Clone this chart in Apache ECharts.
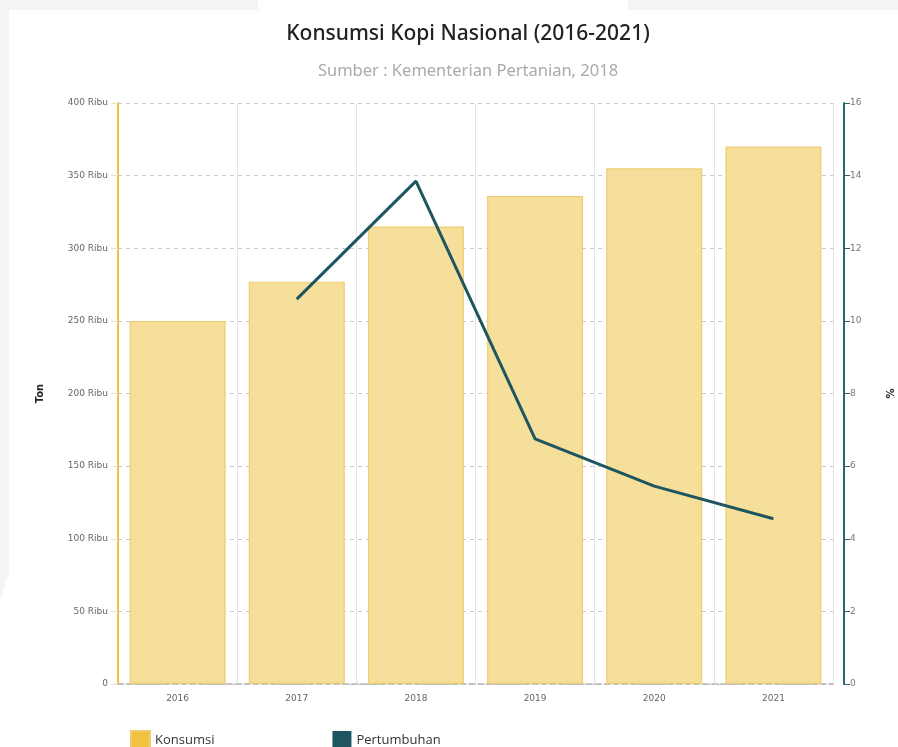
<!DOCTYPE html>
<html>
<head>
<meta charset="utf-8">
<script src="https://cdn.jsdelivr.net/npm/echarts@6/dist/echarts.min.js"></script>
<style>
html,body{margin:0;padding:0;background:#fff;}
#c{width:898px;height:747px;}
</style>
</head>
<body>
<div id="c"></div>
<script>
var categories = ['2016','2017','2018','2019','2020','2021'];
var konsumsi = [250, 277, 315, 336, 355, 370];           // ribu ton
var pertumbuhan = [null, 10.6, 13.85, 6.75, 5.45, 4.55];  // %
var leftTicks = { min: 0, max: 400, interval: 50 };
var rightTicks = { min: 0, max: 16, interval: 2 };

var chart = echarts.init(document.getElementById('c'));
chart.setOption({
  backgroundColor: '#ffffff',
  graphic: [
    { type: 'rect', z: -10, shape: { x: 0, y: 0, width: 258, height: 10 }, style: { fill: '#f4f4f4' } },
    { type: 'rect', z: -10, shape: { x: 628, y: 0, width: 270, height: 10 }, style: { fill: '#f4f4f4' } },
    { type: 'polygon', z: -10, shape: { points: [[0,0],[9,0],[9,572],[0,600]] }, style: { fill: '#f4f4f4' } }
  ],
  title: [
    {
      text: 'Konsumsi Kopi Nasional (2016-2021)',
      left: 463,
      textAlign: 'center',
      top: 19,
      textStyle: { fontFamily: 'Noto Sans', fontSize: 21, fontWeight: 500, color: '#222' }
    },
    {
      text: 'Sumber : Kementerian Pertanian, 2018',
      left: 463,
      textAlign: 'center',
      top: 58,
      textStyle: { fontFamily: 'Noto Sans', fontSize: 16.5, fontWeight: 'normal', color: '#aaaaaa' }
    }
  ],
  legend: {
    left: 125,
    top: 725,
    itemWidth: 19,
    itemHeight: 18,
    itemGap: 118,
    textStyle: { fontFamily: 'Open Sans', fontSize: 13, color: '#333' },
    data: [
      { name: 'Konsumsi', icon: 'rect', itemStyle: { color: '#f2c142' } },
      { name: 'Pertumbuhan', icon: 'rect', itemStyle: { color: '#1d5560' } }
    ]
  },
  grid: { left: 118, right: 65, top: 103, bottom: 63, outerBoundsMode: 'none', containLabel: false },
  xAxis: {
    type: 'category',
    data: categories,
    axisLine: { lineStyle: { color: '#b5b5b5', type: 'dashed', width: 1.5 } },
    axisTick: { show: false },
    axisLabel: { color: '#666', fontSize: 9, fontFamily: 'DejaVu Sans', margin: 10 },
    splitLine: { show: true, lineStyle: { color: '#e3e3e3', width: 1 } }
  },
  yAxis: [
    {
      type: 'value',
      min: leftTicks.min, max: leftTicks.max, interval: leftTicks.interval,
      name: 'Ton',
      nameLocation: 'middle',
      nameGap: 73,
      nameRotate: 90,
      nameTextStyle: { fontFamily: 'DejaVu Sans', fontWeight: 'bold', fontSize: 10, color: '#222' },
      axisLine: { show: true, lineStyle: { color: '#f2c142', width: 2 } },
      axisTick: { show: true, length: 7, lineStyle: { color: '#ece3c0' } },
      axisLabel: {
        color: '#666', fontSize: 9, fontFamily: 'DejaVu Sans', margin: 10,
        formatter: function (v) { return v === 0 ? '0' : v + ' Ribu'; }
      },
      splitLine: { show: true, lineStyle: { color: '#c8c8c8', type: [4, 4], width: 1 } }
    },
    {
      type: 'value',
      position: 'right',
      offset: 11,
      min: rightTicks.min, max: rightTicks.max, interval: rightTicks.interval,
      name: '%',
      nameLocation: 'middle',
      nameGap: 42,
      nameRotate: 90,
      nameTextStyle: { fontFamily: 'DejaVu Sans', fontWeight: 'bold', fontSize: 10, color: '#222' },
      axisLine: { show: true, lineStyle: { color: '#2a6470', width: 2 } },
      axisTick: { show: true, length: 6, lineStyle: { color: '#2a6470' } },
      axisLabel: { color: '#777', fontSize: 9, fontFamily: 'DejaVu Sans', margin: 6 },
      splitLine: { show: false }
    }
  ],
  series: [
    {
      name: 'Konsumsi',
      type: 'bar',
      data: konsumsi,
      barWidth: 96,
      itemStyle: { color: '#f6df9a', borderColor: '#efcc70', borderWidth: 1.2 },
      z: 1
    },
    {
      name: 'Pertumbuhan',
      type: 'line',
      yAxisIndex: 1,
      data: pertumbuhan,
      showSymbol: false,
      symbol: 'none',
      lineStyle: { color: '#1d5560', width: 3 },
      itemStyle: { color: '#1d5560' },
      z: 3
    }
  ]
});
</script>
</body>
</html>
